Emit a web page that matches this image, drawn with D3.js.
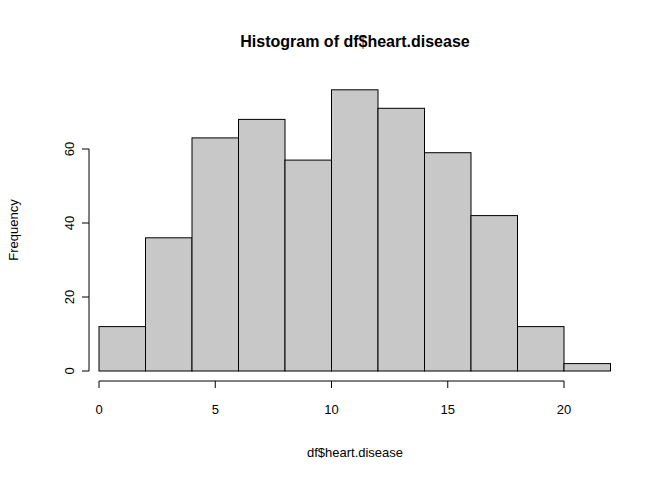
<!DOCTYPE html>
<html><head><meta charset="utf-8">
<script src="https://cdn.jsdelivr.net/npm/d3@7"></script>
<style>body{margin:0;background:#fff}text{font-family:"Liberation Sans",Arial,sans-serif}</style>
</head><body><svg id="c" width="672" height="480"></svg>
<script>
// bin edges and counts
var binStarts = [0,2,4,6,8,10,12,14,16,18,20];
var counts = [12,36,63,68,57,76,71,59,42,12,2];
var xTicks = [0,5,10,15,20];
var yTicks = [0,20,40,60];

var svg = d3.select('#c');
var x = d3.scaleLinear().domain([0,20]).range([99,564]);
var y = d3.scaleLinear().domain([0,60]).range([371,149]);

svg.selectAll('rect').data(counts).enter().append('rect')
    .attr('x', function(d,i){ return x(binStarts[i]); })
    .attr('width', function(d,i){ return x(binStarts[i]+2)-x(binStarts[i]); })
    .attr('y', function(d){ return y(d); })
    .attr('height', function(d){ return y(0)-y(d); })
    .attr('fill','#c8c8c8').attr('stroke','#000').attr('stroke-width',1);

// x axis
var gx = svg.append('g').attr('transform','translate(0,381)');
gx.append('line').attr('x1',x(0)).attr('x2',x(20)).attr('stroke','#000');
xTicks.forEach(function(t){
    gx.append('line').attr('x1',x(t)).attr('x2',x(t)).attr('y2',7).attr('stroke','#000');
    gx.append('text').attr('x',x(t)).attr('y',33).attr('text-anchor','middle').attr('font-size',13).text(t);
});

// y axis
var gy = svg.append('g').attr('transform','translate(89,0)');
gy.append('line').attr('y1',y(0)).attr('y2',y(60)).attr('stroke','#000');
yTicks.forEach(function(t){
    gy.append('line').attr('y1',y(t)).attr('y2',y(t)).attr('x2',-7).attr('stroke','#000');
    gy.append('text').attr('transform','translate(-15,'+y(t)+') rotate(-90)').attr('text-anchor','middle').attr('font-size',13).text(t);
});

svg.append('text').attr('x',355).attr('y',47).attr('text-anchor','middle').attr('font-size',16).attr('font-weight','bold').text('Histogram of df$heart.disease');
svg.append('text').attr('x',355).attr('y',457).attr('text-anchor','middle').attr('font-size',13).text('df$heart.disease');
svg.append('text').attr('transform','translate(18,230) rotate(-90)').attr('text-anchor','middle').attr('font-size',13).text('Frequency');
</script></body></html>
